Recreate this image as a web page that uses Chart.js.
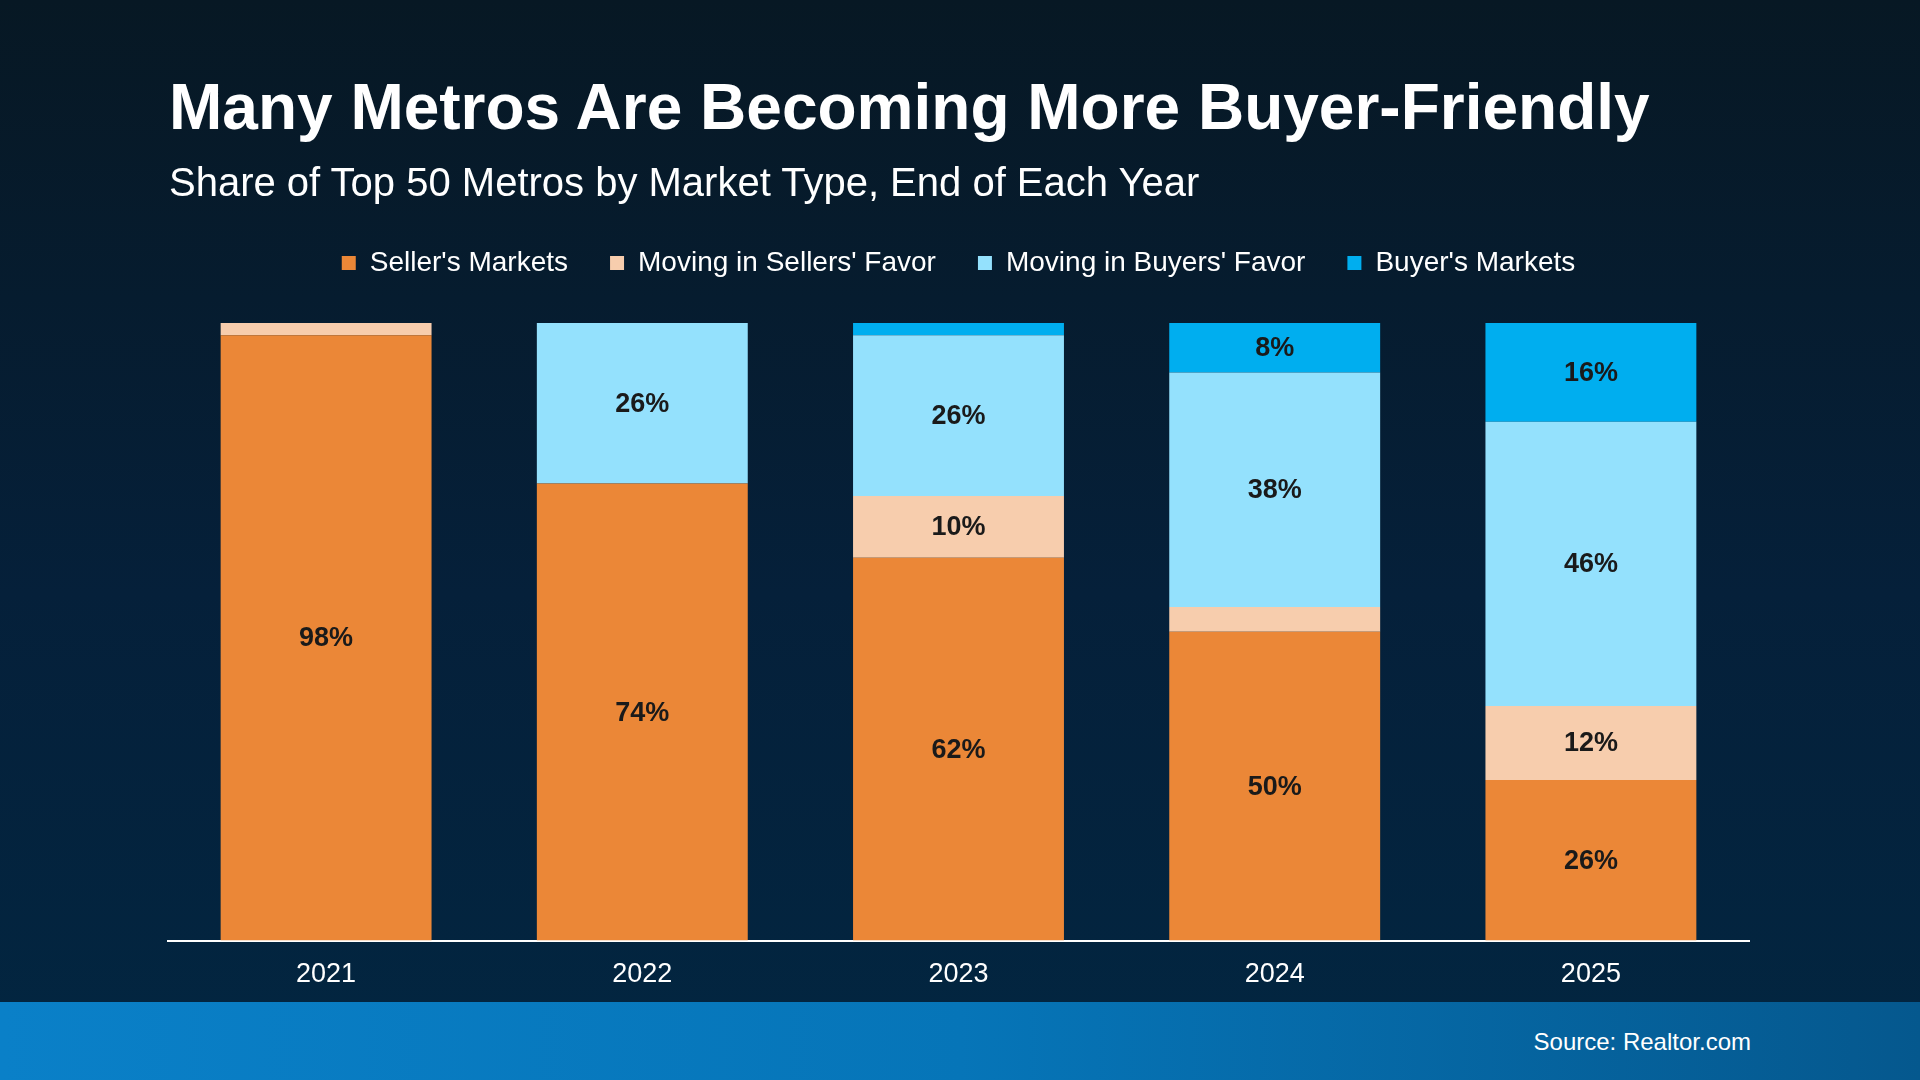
<!DOCTYPE html>
<html>
<head>
<meta charset="utf-8">
<script src="https://cdn.jsdelivr.net/npm/chart.js@4.4.0/dist/chart.umd.min.js"></script>
<style>
  html, body { margin: 0; padding: 0; }
  body {
    width: 1920px; height: 1080px; overflow: hidden; position: relative;
    background: linear-gradient(180deg, #071824 0%, #05203a 55%, #022641 100%);
    font-family: "Liberation Sans", Arial, Helvetica, sans-serif;
  }
  #title {
    position: absolute; left: 169px; top: 75px; margin: 0;
    font-size: 64px; font-weight: bold; color: #ffffff; line-height: 1; white-space: nowrap;
  }
  #subtitle {
    position: absolute; left: 169px; top: 162px; margin: 0;
    font-size: 40px; font-weight: normal; color: #ffffff; line-height: 1; white-space: nowrap;
  }
  #chartWrap { position: absolute; left: 0; top: 0; width: 1920px; height: 1021px; }
  #band {
    position: absolute; left: 0; top: 1002px; width: 1920px; height: 78px;
    background: linear-gradient(90deg, #0a80c8 0%, #0675b8 50%, #05588e 100%);
  }
  #source {
    position: absolute; right: 169px; top: 1030px;
    font-size: 24px; color: #ffffff; line-height: 1; white-space: nowrap;
  }
</style>
</head>
<body>
<div id="chartWrap"><canvas id="c" width="1920" height="1021"></canvas></div>
<div id="title">Many Metros Are Becoming More Buyer-Friendly</div>
<div id="subtitle">Share of Top 50 Metros by Market Type, End of Each Year</div>
<div id="band"></div>
<div id="source">Source: Realtor.com</div>
<script>
const categories = ["2021", "2022", "2023", "2024", "2025"];
const sellersMarkets = [98, 74, 62, 50, 26];
const movingSellersFavor = [2, 0, 10, 4, 12];
const movingBuyersFavor = [0, 26, 26, 38, 46];
const buyersMarkets = [0, 0, 2, 8, 16];
const seriesNames = ["Seller's Markets", "Moving in Sellers' Favor", "Moving in Buyers' Favor", "Buyer's Markets"];
const seriesColors = ["#EB8737", "#F7CDAD", "#94E1FD", "#00AEEF"];
const labelMin = 5;

const FONT = "'Liberation Sans', Arial, Helvetica, sans-serif";

const legendGap = {
  id: 'legendGap',
  beforeInit(chart) {
    const legend = chart.legend;
    const origFit = legend.fit;
    legend.fit = function () {
      origFit.bind(legend)();
      this.height += 36;
    };
  }
};

const barLabels = {
  id: 'barLabels',
  afterDatasetsDraw(chart) {
    const ctx = chart.ctx;
    ctx.save();
    ctx.font = "bold 27px " + FONT;
    ctx.fillStyle = "#1a1a1a";
    ctx.textAlign = "center";
    ctx.textBaseline = "middle";
    chart.data.datasets.forEach((ds, di) => {
      const meta = chart.getDatasetMeta(di);
      meta.data.forEach((el, i) => {
        const v = ds.data[i];
        if (v >= labelMin) {
          ctx.fillText(v + "%", el.x, (el.y + el.base) / 2 + 1);
        }
      });
    });
    ctx.restore();
  }
};

const allSeries = [sellersMarkets, movingSellersFavor, movingBuyersFavor, buyersMarkets];

new Chart(document.getElementById('c'), {
  type: 'bar',
  data: {
    labels: categories,
    datasets: allSeries.map((d, i) => ({
      label: seriesNames[i],
      data: d,
      backgroundColor: seriesColors[i],
      borderWidth: 0,
      barPercentage: 0.667,
      categoryPercentage: 1.0
    }))
  },
  options: {
    responsive: false,
    animation: false,
    devicePixelRatio: 1,
    layout: { padding: { left: 168, right: 171, top: 207, bottom: 12 } },
    plugins: {
      tooltip: { enabled: false },
      legend: {
        position: 'top',
        align: 'center',
        labels: {
          color: '#ffffff',
          font: { family: FONT, size: 28 },
          boxWidth: 14,
          boxHeight: 14,
          padding: 42
        }
      }
    },
    scales: {
      x: {
        stacked: true,
        grid: { display: false, drawTicks: false },
        border: { display: true, color: '#ffffff', width: 2 },
        ticks: { color: '#ffffff', font: { family: FONT, size: 27 }, padding: 18 }
      },
      y: {
        stacked: true,
        display: false,
        min: 0,
        max: 100
      }
    }
  },
  plugins: [legendGap, barLabels]
});
</script>
</body>
</html>
